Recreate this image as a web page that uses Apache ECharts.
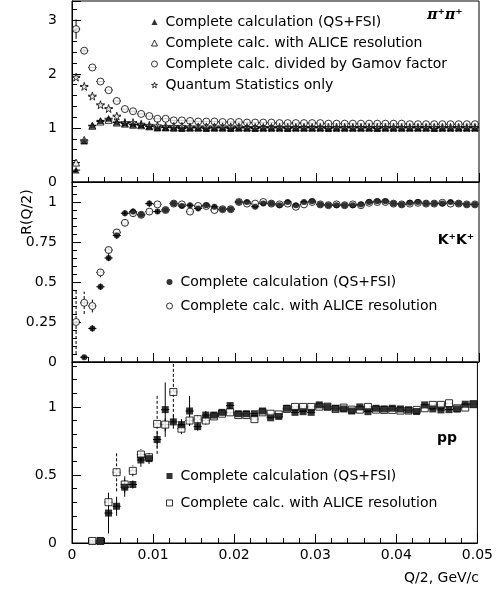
<!DOCTYPE html>
<html><head><meta charset="utf-8">
<script src="https://cdn.jsdelivr.net/npm/echarts@6/dist/echarts.min.js"></script>
<style>html,body{margin:0;padding:0;background:#fff}#c{width:496px;height:590px}</style>
</head><body><div id="c"></div>
<script>
// ---- data ----
const qBins = [0.0005,0.0015,0.0025,0.0035,0.0045,0.0055,0.0065,0.0075,0.0085,0.0095,
  0.0105,0.0115,0.0125,0.0135,0.0145,0.0155,0.0165,0.0175,0.0185,0.0195,
  0.0205,0.0215,0.0225,0.0235,0.0245,0.0255,0.0265,0.0275,0.0285,0.0295,
  0.0305,0.0315,0.0325,0.0335,0.0345,0.0355,0.0365,0.0375,0.0385,0.0395,
  0.0405,0.0415,0.0425,0.0435,0.0445,0.0455,0.0465,0.0475,0.0485,0.0495];
const xTicks = [0, 0.01, 0.02, 0.03, 0.04, 0.05];

// pi+ pi+
const pipiComplete = [0.22,0.76,1.05,1.14,1.18,1.11,1.09,1.07,1.06,1.03,1.00,1.01,1.00,0.99,1.00,1.00,0.99,1.00,1.00,0.99,1.00,1.00,0.99,1.00,1.00,1.00,0.99,1.00,1.00,1.00,1.00,0.99,1.00,1.00,1.00,1.00,1.00,0.99,1.00,1.00,1.00,1.00,1.00,1.00,0.99,1.00,1.00,1.00,1.00,1.00];
const pipiAlice = [0.36,0.78,1.04,1.12,1.15,1.10,1.08,1.06,1.05,1.03,1.02,1.01,1.01,1.01,1.01,1.01,1.01,1.01,1.01,1.01,1.01,1.01,1.01,1.01,1.01,1.01,1.01,1.01,1.01,1.01,1.01,1.01,1.01,1.01,1.01,1.01,1.01,1.01,1.01,1.01,1.01,1.01,1.01,1.01,1.01,1.01,1.01,1.01,1.01,1.01];
const pipiGamov = [2.83,2.43,2.12,1.86,1.70,1.50,1.35,1.31,1.26,1.22,1.17,1.17,1.14,1.14,1.13,1.12,1.12,1.12,1.11,1.11,1.11,1.10,1.10,1.10,1.10,1.09,1.09,1.09,1.09,1.09,1.09,1.08,1.08,1.08,1.08,1.08,1.08,1.08,1.08,1.08,1.08,1.07,1.07,1.07,1.07,1.07,1.07,1.07,1.07,1.07];
const pipiQS = [1.94,1.77,1.59,1.43,1.36,1.22,1.10,1.10,1.07,1.05,1.04,1.03,1.03,1.03,1.02,1.02,1.02,1.02,1.02,1.02,1.02,1.01,1.01,1.01,1.01,1.01,1.01,1.01,1.01,1.01,1.01,1.01,1.01,1.01,1.01,1.01,1.01,1.01,1.01,1.01,1.01,1.01,1.01,1.01,1.01,1.01,1.01,1.01,1.01,1.01];
const pipiCompleteErr = [0.03];
const pipiAliceErr = [0.04];
const pipiGamovErr = [0.18,0.04];
const pipiQSErr = [0.04];

// K+ K+
const kkComplete = [null,0.03,0.21,0.47,0.65,0.79,0.93,0.94,0.92,0.99,0.94,0.95,0.99,0.975,0.98,0.96,0.98,0.97,0.955,0.955,1.0,1.0,0.97,0.99,0.99,0.98,1.0,0.98,1.0,1.005,0.985,0.98,0.98,0.98,0.98,0.985,1.0,1.005,1.005,0.99,0.985,0.995,1.0,0.99,0.99,0.99,1.0,0.99,0.985,0.985];
const kkAlice = [0.25,0.37,0.35,0.56,0.70,0.81,0.87,0.93,0.92,0.94,0.985,0.95,0.99,0.985,0.94,0.975,0.975,0.95,0.955,0.955,1.0,0.99,0.99,1.0,0.99,0.985,0.99,0.97,0.985,1.0,0.985,0.98,0.985,0.98,0.985,0.98,0.995,1.0,1.0,0.99,0.985,0.99,0.995,0.99,0.99,0.995,0.99,0.99,0.985,0.985];
const kkCompleteErr = [0,0.01,0.02,0.02,0.02,0.02,0.02,0.02,0.02,0.02,0.015,0.015,0.015,0.015,0.015,0.015,0.015,0.015,0.015,0.015];
const kkAliceErr = [0.2,0.07,0.04,0.03,0.03,0.02,0.02,0.02,0.02,0.02];

// p p
const ppComplete = [null,null,null,0.015,0.22,0.27,0.41,0.43,0.61,0.62,0.76,0.98,0.89,0.87,0.97,0.855,0.94,0.94,0.96,1.01,0.95,0.95,0.95,0.97,0.92,0.93,0.99,0.96,0.965,0.96,1.015,1.0,0.99,0.985,0.97,1.0,0.965,0.99,0.985,0.99,0.985,0.978,0.966,1.015,0.985,0.978,0.98,0.985,1.02,1.02];
const ppAlice = [null,null,0.015,0.015,0.30,0.52,0.43,0.53,0.65,0.63,0.875,0.87,1.11,0.84,0.90,0.91,0.90,0.93,0.95,0.96,0.94,0.94,0.91,0.96,0.95,0.945,0.985,1.0,1.0,1.0,1.002,1.002,0.985,0.995,0.98,0.98,1.0,0.98,0.978,0.978,0.973,0.973,0.978,0.99,1.015,1.015,1.027,0.99,0.995,1.02];
const ppCompleteErr = [0,0,0,0.01,0.15,0.07,0.07,0.03,0.05,0.04,0.06,0.2,0.05,0.04,0.11,0.03,0.03,0.02,0.02,0.02];
const ppAliceErr = [0,0,0.01,0.01,0.06,0.14,0.06,0.04,0.04,0.03,0.22,0.05,0.22,0.04,0.04,0.03,0.03,0.02,0.02,0.02];

const labels = {
  pipi_c: 'Complete calculation (QS+FSI)',
  pipi_a: 'Complete calc. with ALICE resolution',
  pipi_g: 'Complete calc. divided by Gamov factor',
  pipi_q: 'Quantum Statistics only',
  kk_c: 'Complete calculation (QS+FSI)',
  kk_a: 'Complete calc. with ALICE resolution',
  pp_c: 'Complete calculation (QS+FSI)',
  pp_a: 'Complete calc. with ALICE resolution'
};
const panelNames = ['π⁺π⁺', 'K⁺K⁺', 'pp'];

// ---- chart ----
const FONT = 'DejaVu Sans';
const X_HALF = 0.0005;
const yMax = [3.35, 1.125, 1.33];
const yInt = [1, 0.25, 0.5];
const STAR = 'path://M50,0 L61,35 L98,35 L68,57 L79,91 L50,70 L21,91 L32,57 L2,35 L39,35 Z';

function pts(vals, errs) {
  const out = [];
  vals.forEach((v, i) => { if (v != null) out.push([qBins[i], v, errs ? (errs[i] || 0) : 0]); });
  return out;
}
function errSeries(idx, vals, errs, dashed) {
  const top = yMax[idx];
  return {
    type: 'custom', xAxisIndex: idx, yAxisIndex: idx, z: 1, silent: true, animation: false,
    encode: { x: 0, y: 1 },
    data: pts(vals, errs),
    renderItem(params, api) {
      const x = api.value(0), y = api.value(1), e = api.value(2);
      const style = { stroke: '#000', lineWidth: 1, lineDash: dashed ? [3, 2] : null, fill: null };
      const a = api.coord([Math.max(0, x - X_HALF), y]), b = api.coord([x + X_HALF, y]);
      const children = [{ type: 'line', shape: { x1: a[0], y1: a[1], x2: b[0], y2: b[1] }, style }];
      if (e > 0) {
        const p = api.coord([x, Math.max(0, y - e)]), q = api.coord([x, Math.min(top, y + e)]);
        children.push({ type: 'line', shape: { x1: p[0], y1: p[1], x2: q[0], y2: q[1] }, style });
      }
      return { type: 'group', children };
    }
  };
}
function scat(name, idx, vals, symbol, size, filled) {
  return {
    type: 'scatter', name, xAxisIndex: idx, yAxisIndex: idx, symbol, symbolSize: size,
    z: filled ? 3 : 2, silent: true, animation: false,
    data: pts(vals).map(p => [p[0], p[1]]),
    itemStyle: filled ? { color: '#000' } : { color: '#fff', borderColor: '#000', borderWidth: 1 }
  };
}

const grids = [
  { left: 72, right: 17, top: 1, height: 181 },
  { left: 72, right: 17, top: 182, height: 180 },
  { left: 72, right: 17, top: 362, height: 181 }
].map(g => Object.assign(g, { show: true, borderColor: '#000', borderWidth: 1, containLabel: false }));

const xAxes = [0, 1, 2].map(i => ({
  type: 'value', gridIndex: i, min: xTicks[0], max: xTicks[xTicks.length - 1], interval: 0.01,
  axisLine: { show: true, lineStyle: { color: '#000', width: 1 } },
  axisTick: { show: true, inside: true, length: 9, lineStyle: { color: '#000' } },
  minorTick: { show: true, splitNumber: 5, length: 5, lineStyle: { color: '#000' } },
  splitLine: { show: false },
  axisLabel: { show: i === 2, fontFamily: FONT, fontSize: 14, color: '#000', margin: 5 }
}));
const yAxes = [0, 1, 2].map(i => ({
  type: 'value', gridIndex: i, min: 0, max: yMax[i], interval: yInt[i],
  axisLine: { show: true, lineStyle: { color: '#000', width: 1 } },
  axisTick: { show: true, inside: true, length: 9, lineStyle: { color: '#000' } },
  minorTick: { show: true, splitNumber: 5, length: 5, lineStyle: { color: '#000' } },
  splitLine: { show: false },
  axisLabel: { showMaxLabel: false, fontFamily: FONT, fontSize: 14, color: '#000', margin: 15 }
}));

const series = [
  errSeries(0, pipiGamov, pipiGamovErr, false),
  errSeries(0, pipiQS, pipiQSErr, false),
  errSeries(0, pipiAlice, pipiAliceErr, true),
  errSeries(0, pipiComplete, pipiCompleteErr, false),
  scat('pipi_c', 0, pipiComplete, 'triangle', 7, true),
  scat('pipi_a', 0, pipiAlice, 'triangle', 7, false),
  scat('pipi_g', 0, pipiGamov, 'circle', 7, false),
  scat('pipi_q', 0, pipiQS, STAR, 8, false),
  errSeries(1, kkAlice, kkAliceErr, true),
  errSeries(1, kkComplete, kkCompleteErr, false),
  scat('kk_c', 1, kkComplete, 'circle', 6, true),
  scat('kk_a', 1, kkAlice, 'circle', 7, false),
  errSeries(2, ppAlice, ppAliceErr, true),
  errSeries(2, ppComplete, ppCompleteErr, false),
  scat('pp_c', 2, ppComplete, 'rect', 7, true),
  scat('pp_a', 2, ppAlice, 'rect', 7, false)
];

function legend(names, left, top, gap) {
  return {
    orient: 'vertical', left, top, itemGap: gap, itemWidth: 6, itemHeight: 6, padding: 0,
    selectedMode: false, data: names, formatter: n => labels[n],
    itemStyle: { borderWidth: 1 },
    textStyle: { fontFamily: FONT, fontSize: 14, color: '#000', lineHeight: 16, padding: [0, 0, 0, 3] }
  };
}

const chart = echarts.init(document.getElementById('c'), null, { renderer: 'canvas' });
chart.setOption({
  animation: false,
  backgroundColor: '#fff',
  grid: grids, xAxis: xAxes, yAxis: yAxes, series,
  legend: [
    legend(['pipi_c', 'pipi_a', 'pipi_g', 'pipi_q'], 151, 14, 5),
    legend(['kk_c', 'kk_a'], 166, 274, 8),
    legend(['pp_c', 'pp_a'], 166, 468, 11)
  ],
  graphic: [
    { type: 'text', x: 445, y: 15, style: { text: panelNames[0], font: 'bold italic 14px "DejaVu Serif"', fill: '#000', align: 'center', verticalAlign: 'middle', textAlign: 'center', textVerticalAlign: 'middle' } },
    { type: 'text', x: 456, y: 240, style: { text: panelNames[1], font: 'bold 14px "DejaVu Sans"', fill: '#000', align: 'center', verticalAlign: 'middle', textAlign: 'center', textVerticalAlign: 'middle' } },
    { type: 'text', x: 447, y: 438, style: { text: panelNames[2], font: 'bold 14px "DejaVu Sans"', fill: '#000', align: 'center', verticalAlign: 'middle', textAlign: 'center', textVerticalAlign: 'middle' } },
    { type: 'text', x: 479, y: 578, style: { text: 'Q/2, GeV/c', font: '14px "DejaVu Sans"', fill: '#000', align: 'right', verticalAlign: 'middle', textAlign: 'right', textVerticalAlign: 'middle' } },
    { type: 'text', x: 27, y: 212, rotation: Math.PI / 2, style: { text: 'R(Q/2)', font: '14px "DejaVu Sans"', fill: '#000', align: 'center', verticalAlign: 'middle', textAlign: 'center', textVerticalAlign: 'middle' } }
  ]
});
</script></body></html>
